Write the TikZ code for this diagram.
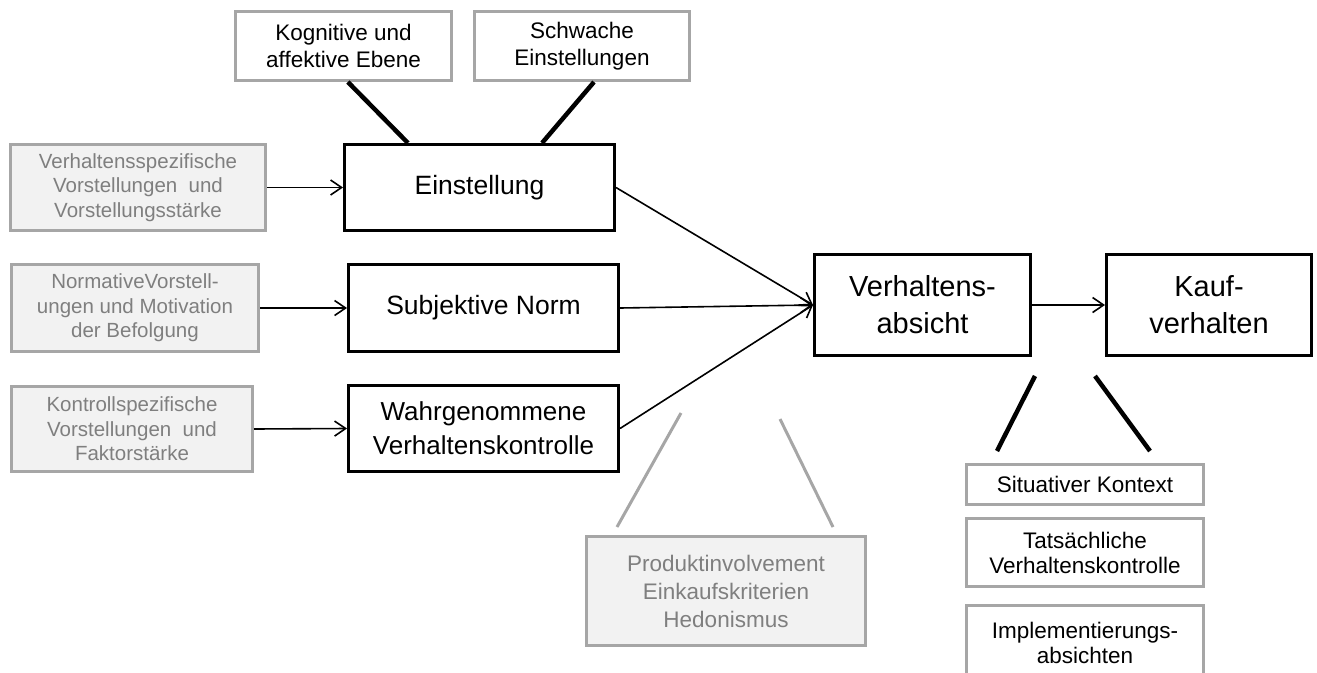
\documentclass[tikz,border=0pt]{standalone}
\usepackage{fontspec}
\setmainfont{Liberation Sans}
\usetikzlibrary{arrows.meta,calc}
\definecolor{gbord}{HTML}{A6A6A6}
\definecolor{gfill}{HTML}{F2F2F2}
\definecolor{gtext}{HTML}{7F7F7F}
\newcommand{\myfs}[2]{\fontsize{#1}{#2}\selectfont}
\begin{document}
\begin{tikzpicture}[x=1pt,y=-1pt,
  box/.style={rectangle, inner sep=0pt, align=center, line width=3pt},
  mainbox/.style={box, draw=black, fill=white, text=black},
  inbox/.style={box, draw=gbord, fill=gfill, text=gtext, font=\myfs{20.5}{24.5}},
  notebox/.style={box, draw=gbord, fill=white, text=black, font=\myfs{22.5}{27}},
  conn/.style={line width=1.6pt, -{Straight Barb[length=11pt,width=15pt,line width=1.6pt]}},
  thickline/.style={line width=4.5pt, draw=black},
  grayline/.style={line width=3pt, draw=gbord}]
\useasboundingbox (0,0) rectangle (1317,672);
\clip (0,0) rectangle (1317,672);
% top notes
\node[notebox, minimum width=216pt, minimum height=69pt] (kog) at (343.5,46) {Kognitive und\\affektive Ebene};
\node[notebox, minimum width=215pt, minimum height=69pt] (schw) at (582,46) {Schwache\\Einstellungen};
% left inputs
\node[inbox, minimum width=255pt, minimum height=86pt] (vsp) at (138,187.5) {Verhaltensspezifische\\Vorstellungen\ \ und\\Vorstellungsstärke};
\node[inbox, minimum width=247pt, minimum height=87pt] (norm) at (135,308) {NormativeVorstell-\\ungen und Motivation\\der Befolgung};
\node[inbox, minimum width=241pt, minimum height=85pt] (kon) at (132,429) {Kontrollspezifische\\Vorstellungen\ \ und\\Faktorstärke};
% main column
\node[mainbox, minimum width=270pt, minimum height=86pt, font=\myfs{26.5}{33}] (ein) at (479.5,187.5) {Einstellung};
\node[mainbox, minimum width=270pt, minimum height=87pt, font=\myfs{26.5}{33}] (subj) at (483.5,308) {Subjektive Norm};
\node[mainbox, minimum width=270pt, minimum height=86pt, font=\myfs{26}{34}] (wahr) at (483.5,428.5) {Wahrgenommene\\Verhaltenskontrolle};
% right
\node[mainbox, minimum width=216pt, minimum height=101pt, font=\myfs{29}{37}] (va) at (922.5,305) {Verhaltens-\\absicht};
\node[mainbox, minimum width=205pt, minimum height=101pt, font=\myfs{29}{37}] (kauf) at (1209,305) {Kauf-\\verhalten};
% bottom notes
\node[inbox, font=\myfs{22.5}{28}, minimum width=279pt, minimum height=109pt] (prod) at (726,591) {Produktinvolvement\\Einkaufskriterien\\Hedonismus};
\node[notebox, minimum width=237pt, minimum height=40pt] (sit) at (1085,484.5) {Situativer Kontext};
\node[notebox, minimum width=237pt, minimum height=68pt, font=\myfs{22.5}{25}] (tat) at (1085,552.5) {Tatsächliche\\Verhaltenskontrolle};
\node[notebox, minimum width=237pt, minimum height=74pt, font=\myfs{22.5}{25}] (imp) at (1085,642.5) {Implementierungs-\\absichten};
% thick connectors to Einstellung
\draw[thickline] ($(kog.south west)!0.52!(kog.south east)$) -- ($(ein.north west)!0.238!(ein.north east)$);
\draw[thickline] ($(schw.south west)!0.555!(schw.south east)$) -- ($(ein.north west)!0.729!(ein.north east)$);
% arrows
\draw[conn] (vsp.east) -- (ein.west);
\draw[conn] (norm.east) -- (subj.west);
\draw[conn] (kon.east) -- (wahr.west);
\draw[conn] (ein.east) -- (va.west);
\draw[conn] (subj.east) -- (va.west);
\draw[conn] (wahr.east) -- (va.west);
\draw[conn] (va.east) -- (kauf.west);
% free-standing lines
\coordinate (b1a) at (1035,376);
\coordinate (b1b) at (997,451);
\coordinate (b2a) at (1095,376);
\coordinate (b2b) at (1150,451);
\draw[thickline] (b1a) -- (b1b);
\draw[thickline] (b2a) -- (b2b);
\coordinate (g1a) at (681,413);
\coordinate (g1b) at (617,527);
\coordinate (g2a) at (780,419);
\coordinate (g2b) at (833,527);
\draw[grayline] (g1a) -- (g1b);
\draw[grayline] (g2a) -- (g2b);
\end{tikzpicture}
\end{document}
